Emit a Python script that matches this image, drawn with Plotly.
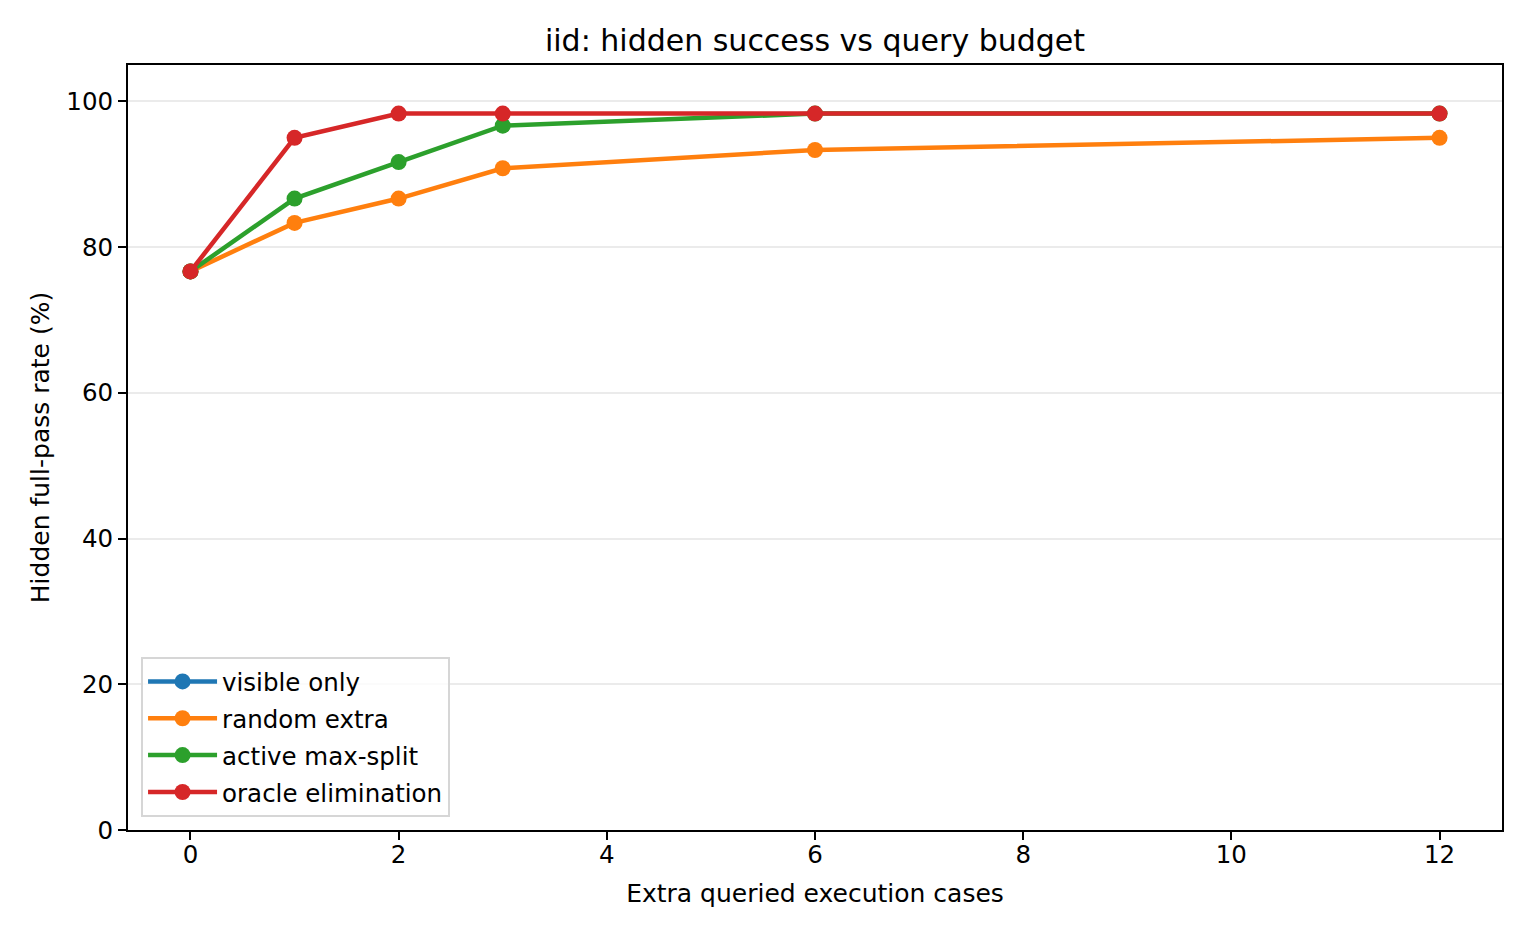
import plotly.graph_objects as go

# query budgets (extra execution cases)
budgets = [0, 1, 2, 3, 6, 12]

visible_x = [0]
visible_only = [76.67]
random_extra = [76.67, 83.33, 86.67, 90.83, 93.33, 95.0]
active_max_split = [76.67, 86.67, 91.67, 96.67, 98.33, 98.33]
oracle_elim = [76.67, 95.0, 98.33, 98.33, 98.33, 98.33]

x_ticks = [0, 2, 4, 6, 8, 10, 12]
y_ticks = [0, 20, 40, 60, 80, 100]

series = [
    ("visible only", visible_x, visible_only, "#1f77b4"),
    ("random extra", budgets, random_extra, "#ff7f0e"),
    ("active max-split", budgets, active_max_split, "#2ca02c"),
    ("oracle elimination", budgets, oracle_elim, "#d62728"),
]

fig = go.Figure()
for name, xs, ys, col in series:
    fig.add_trace(go.Scatter(
        x=xs, y=ys, name=name, mode="lines+markers",
        line=dict(color=col, width=4.5),
        marker=dict(color=col, size=16),
        legendgroup=name,
    ))

axis_common = dict(
    showline=True, linecolor="black", linewidth=2, mirror=True,
    ticks="outside", ticklen=8, tickwidth=2, tickcolor="black",
    tickfont=dict(size=24.5, color="black"), zeroline=False,
)

fig.update_layout(
    width=1530, height=936,
    margin=dict(l=120, r=36, t=57, b=114),
    paper_bgcolor="white", plot_bgcolor="white",
    font=dict(family="DejaVu Sans", color="black"),
    title=dict(text="iid: hidden success vs query budget", x=0.5, xref="paper",
               y=0.965, xanchor="center", yanchor="middle", font=dict(size=30)),
    xaxis=dict(range=[-0.6, 12.6], tickvals=x_ticks, showgrid=False, ticklabelstandoff=-6,
               title=dict(text="Extra queried execution cases", font=dict(size=25), standoff=16),
               **axis_common),
    yaxis=dict(range=[0, 105], tickvals=y_ticks, showgrid=True, gridcolor="#ebebeb",
               gridwidth=1.5,
               title=dict(text="Hidden full-pass rate (%)", font=dict(size=25), standoff=10),
               **axis_common),
    legend=dict(x=0.0095, y=0.017, xanchor="left", yanchor="bottom",
                bgcolor="rgba(255,255,255,0.8)", bordercolor="#d6d6d6", borderwidth=2,
                font=dict(size=24.5), tracegroupgap=2, itemwidth=69),
    showlegend=True,
)

fig.write_html("out.html")
